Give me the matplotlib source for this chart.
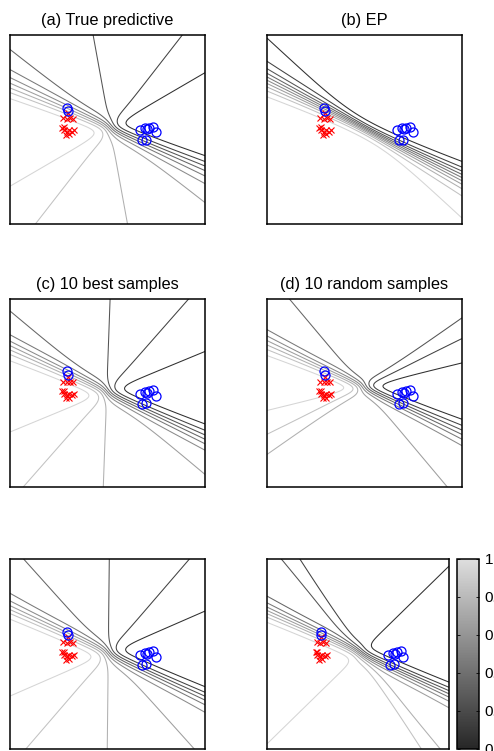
import numpy as np
import matplotlib
matplotlib.use("Agg")
import matplotlib.pyplot as plt
from matplotlib.colors import LinearSegmentedColormap, Normalize
from matplotlib.cm import ScalarMappable

plt.rcParams["font.family"] = ["Liberation Sans", "DejaVu Sans"]

# ── Data points (same in every panel) ────────────────────────────────────────
RED_X = [-2.28, -2.08, -1.92, -1.77, -2.03, -2.33, -2.23, -2.08, -1.97,
         -1.82, -1.72, -2.13, -1.97, -2.23]
RED_Y = [0.61, 0.56, 0.61, 0.56, 0.87, 0.08, -0.03, -0.13, -0.03,
         -0.13, -0.03, -0.29, -0.24, 0.13]
BLUE_X = [-2.06, -2.01, 1.67, 1.92, 2.14, 2.35, 2.49, 1.75, 1.97, 2.05]
BLUE_Y = [1.15, 0.98, -0.03, 0.06, 0.09, 0.14, -0.15, -0.57, -0.54, 0.02]

# ── Classifier samples per panel: boundary angle (deg) through a centre ──────
TITLES = ["(a) True predictive", "(b) EP", "(c) 10 best samples",
          "(d) 10 random samples", "", ""]
ANGLES = [
    [31, 53, 100, 141, 149.5, 153, 155.3, 157.7, 159.7, 161.7],
    [136.4, 145.1, 148.3, 150, 151.4, 152.7, 154.1, 155.5, 157.5, 160],
    [23.2, 49.7, 88, 139, 149.6, 151.8, 153.5, 155.4, 157.6, 160.2],
    [14.2, 27, 36, 129, 149, 151.5, 153.5, 155.5, 157.7, 160.5],
    [24.1, 50, 89.4, 131.2, 148.6, 152.3, 153.8, 155.6, 156.9, 158.7],
    [43.1, 123.8, 131.1, 150.5, 153.5, 155.1, 156.7, 157.6, 159.0, 160.5],
]
CENTERS = [(0.13, 0.08), (0.10, -0.02), (-0.04, 0.05),
           (-0.06, 0.32), (0.04, 0.04), (0.11, 0.05)]
SHARPNESS = [6.0, 6.5, 6.0, 7.0, 6.0, 6.0]
LEVELS = [0.05, 0.15, 0.25, 0.35, 0.45, 0.55, 0.65, 0.75, 0.85, 0.95]

# axes boxes in pixels (left, top, right, bottom) of a 494x751 canvas
W, H = 494, 751
BOXES = [(10, 35, 205, 224), (267, 35, 462, 224),
         (10, 299, 205, 487), (267, 299, 462, 487),
         (10, 559, 205, 749), (267, 559, 449, 749)]
CBAR_BOX = (457, 559, 479, 749)

CMAP = LinearSegmentedColormap.from_list(
    "grey_trunc", [(0.15, 0.15, 0.15), (0.87, 0.87, 0.87)])


def to_fig(box):
    l, t, r, b = box
    return [l / W, 1 - b / H, (r - l) / W, (b - t) / H]


def predictive(angles, center, sharp, gx, gy):
    X, Y = np.meshgrid(gx, gy)
    cx, cy = center
    P = np.zeros_like(X)
    for th in np.deg2rad(angles):
        d = -(X - cx) * np.sin(th) + (Y - cy) * np.cos(th)
        P += 1.0 / (1.0 + np.exp(-sharp * d))
    return P / len(angles)


fig = plt.figure(figsize=(W / 100, H / 100), dpi=100)
gx = np.linspace(-5, 5, 300)
gy = np.linspace(-5, 5, 300)
norm = Normalize(0, 1)

for i in range(6):
    ax = fig.add_axes(to_fig(BOXES[i]))
    P = predictive(ANGLES[i], CENTERS[i], SHARPNESS[i], gx, gy)
    ax.contour(gx, gy, P, levels=LEVELS, cmap=CMAP, norm=norm,
               linewidths=0.75)
    ax.plot(RED_X, RED_Y, "x", color="red", ms=4.8, mew=0.8)
    ax.plot(BLUE_X, BLUE_Y, "o", mfc="none", mec="blue", ms=6.5, mew=0.9)
    ax.set_xlim(-5, 5)
    ax.set_ylim(-5, 5)
    ax.set_xticks([])
    ax.set_yticks([])
    for sp in ax.spines.values():
        sp.set_linewidth(1.1)
    if TITLES[i]:
        ax.set_title(TITLES[i], fontsize=11.8, pad=7)

# ── Colorbar ──────────────────────────────────────────────────────────────────
cax = fig.add_axes(to_fig(CBAR_BOX))
cb = fig.colorbar(ScalarMappable(norm=norm, cmap=CMAP), cax=cax)
cb.set_ticks([0, 0.2, 0.4, 0.6, 0.8, 1])
cb.set_ticklabels(["0", "0.2", "0.4", "0.6", "0.8", "1"])
cax.yaxis.set_ticks_position("both")
cax.tick_params(direction="in", length=2, width=0.6, labelsize=11, pad=4,
                labelleft=False, labelright=True)
cb.outline.set_linewidth(1.1)

fig.savefig("out.png", dpi=100)
